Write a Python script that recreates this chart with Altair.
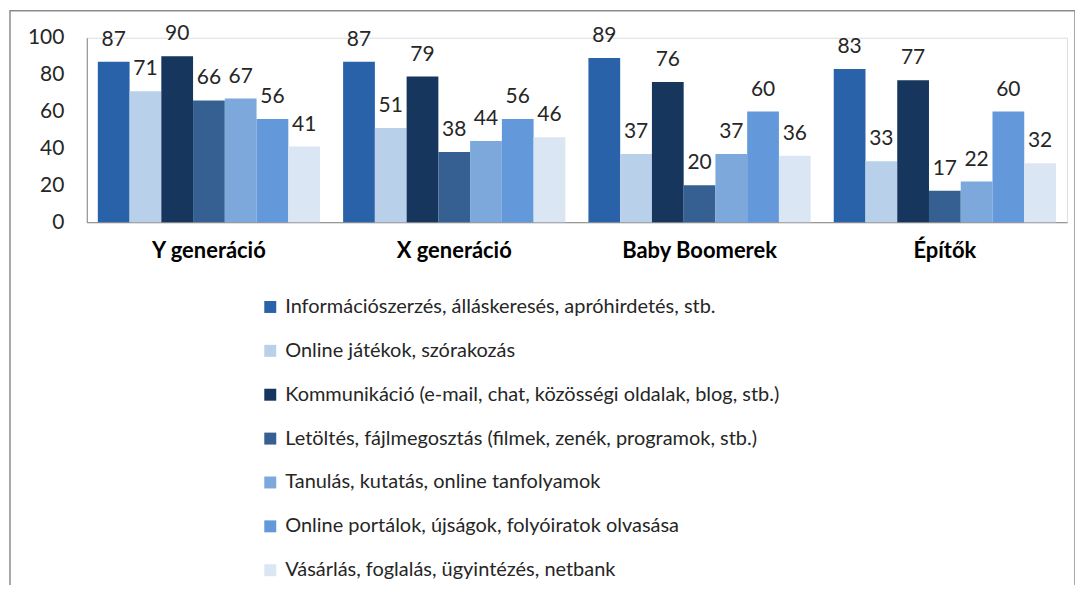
import altair as alt
import pandas as pd

groups = ["Y generáció", "X generáció", "Baby Boomerek", "Építők"]
series = [
    "Információszerzés, álláskeresés, apróhirdetés, stb.",
    "Online játékok, szórakozás",
    "Kommunikáció (e-mail, chat, közösségi oldalak, blog, stb.)",
    "Letöltés, fájlmegosztás (filmek, zenék, programok, stb.)",
    "Tanulás, kutatás, online tanfolyamok",
    "Online portálok, újságok, folyóiratok olvasása",
    "Vásárlás, foglalás, ügyintézés, netbank",
]
info = [87, 87, 89, 83]
jatek = [71, 51, 37, 33]
komm = [90, 79, 76, 77]
letolt = [66, 38, 20, 17]
tanul = [67, 44, 37, 22]
portal = [56, 56, 60, 60]
vasar = [41, 46, 36, 32]
y_ticks = [0, 20, 40, 60, 80, 100]
colors = ["#2A62A9", "#B9D0EA", "#17365D", "#366092", "#7CA8DC", "#6398DA", "#DBE6F5"]

values = [info, jatek, komm, letolt, tanul, portal, vasar]
rows = []
for s, vals in zip(series, values):
    for g, v in zip(groups, vals):
        rows.append({"group": g, "series": s, "value": v})
df = pd.DataFrame(rows)

W, H = 983, 185
FONT = "Lato"

x_axis = alt.Axis(labelAngle=0, ticks=False, domainColor="#868686",
                  labelFontWeight="bold", labelFontSize=22, labelColor="#000000",
                  labelPadding=18, labelFont=FONT)
y_axis = alt.Axis(values=y_ticks, grid=False, ticks=False,
                  labelOverlap=False, labelBound=False, labelFlush=False,
                  domainColor="#868686", labelFontSize=21, labelColor="#262626",
                  labelPadding=23, labelFont=FONT)

x_enc = alt.X("group:N", sort=groups, title=None,
              scale=alt.Scale(paddingInner=0.094, paddingOuter=0.045), axis=x_axis)
xo_enc = alt.XOffset("series:N", sort=series, scale=alt.Scale(paddingInner=0, paddingOuter=0))
y_enc = alt.Y("value:Q", title=None,
              scale=alt.Scale(domain=[0, 100], nice=False), axis=y_axis)

bars = alt.Chart(df).mark_bar().encode(
    x=x_enc, xOffset=xo_enc, y=y_enc,
    color=alt.Color("series:N", sort=series,
                    scale=alt.Scale(domain=series, range=colors),
                    legend=alt.Legend(title=None, orient="none", legendX=174, legendY=260,
                                      direction="vertical", symbolType="square",
                                      symbolSize=144, symbolStrokeWidth=0,
                                      labelFontSize=20, labelFont=FONT, labelColor="#262626",
                                      labelLimit=0, rowPadding=24, labelOffset=5, padding=0)),
)

labels = alt.Chart(df).mark_text(baseline="alphabetic", dy=-16, fontSize=21,
                                 font=FONT, color="#262626").encode(
    x=x_enc, xOffset=xo_enc, y=y_enc, text="value:Q",
)

border = alt.Chart(pd.DataFrame({"a": [0]})).mark_rect(
    fill=None, stroke="#8C8C8C", strokeWidth=1.5
).encode(x=alt.value(-77), x2=alt.value(991), y=alt.value(-27), y2=alt.value(600))

chart = alt.layer(border, bars, labels).properties(
    width=W, height=H,
    autosize=alt.AutoSizeParams(type="none"),
    padding={"left": 79, "top": 29, "right": 8, "bottom": 363},
).configure_view(stroke=None).configure_axisY(labelOverlap=False).configure(background="white")

chart.save("out.html", embed_options={"renderer": "svg", "actions": False})
